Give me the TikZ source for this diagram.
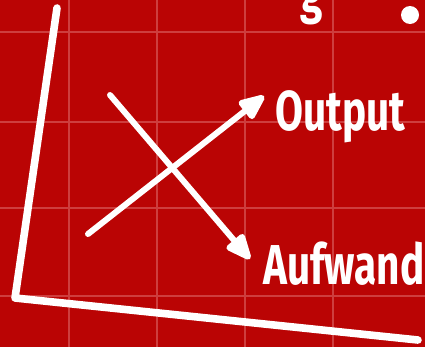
\documentclass[tikz,border=0pt]{standalone}
\usepackage{fontspec}
\setmainfont{Fira Sans}
\usetikzlibrary{arrows.meta}

\definecolor{boardred}{RGB}{186,4,4}
\definecolor{gridred}{RGB}{206,62,62}

\begin{document}
\begin{tikzpicture}[
    x=0.25mm, y=-0.25mm,
    chalk/.style={draw=white, line cap=round, line join=round},
    axis/.style={chalk, line width=1.9mm},
    trend/.style={chalk, line width=1.5mm,
      -{Triangle[length=7.5mm, width=6mm, round]}},
    word/.style={text=white, font=\fontsize{40}{40}\selectfont\bfseries,
      inner sep=0pt}
  ]
    % board
    \fill[boardred] (0,0) rectangle (425,347);
    \clip (0,0) rectangle (425,347);
    \foreach \gx in {69,157,245,333}
      \draw[gridred, line width=0.35mm] (\gx,0) -- (\gx,347);
    \foreach \gy in {32,122,208,296}
      \draw[gridred, line width=0.35mm] (0,\gy) -- (425,\gy);

    % axes
    \coordinate (ytop) at (57,8);
    \coordinate (origin) at (15,298);
    \coordinate (xend) at (418,340);
    \draw[axis] (ytop) -- (origin) -- (xend);

    % labels
    \node[word, anchor=base west] (output) at (275,130)
      {\scalebox{0.72}[1]{Output}};
    \node[word, anchor=base west] (aufwand) at (263,284)
      {\scalebox{0.72}[1]{Aufwand}};

    % trends
    \coordinate (outstart) at (88,234);
    \coordinate (outtip) at (264,96);
    \coordinate (aufstart) at (110,95);
    \coordinate (auftip) at (250,259);
    \draw[trend] (outstart) -- (outtip);
    \draw[trend] (aufstart) -- (auftip);

    % cut-off writing at the top
    \node[word, anchor=base] (gtop) at (312,12) {\scalebox{0.72}[1]{g}};
    \fill[white] (410,15) circle (9);
  \end{tikzpicture}
\end{document}
